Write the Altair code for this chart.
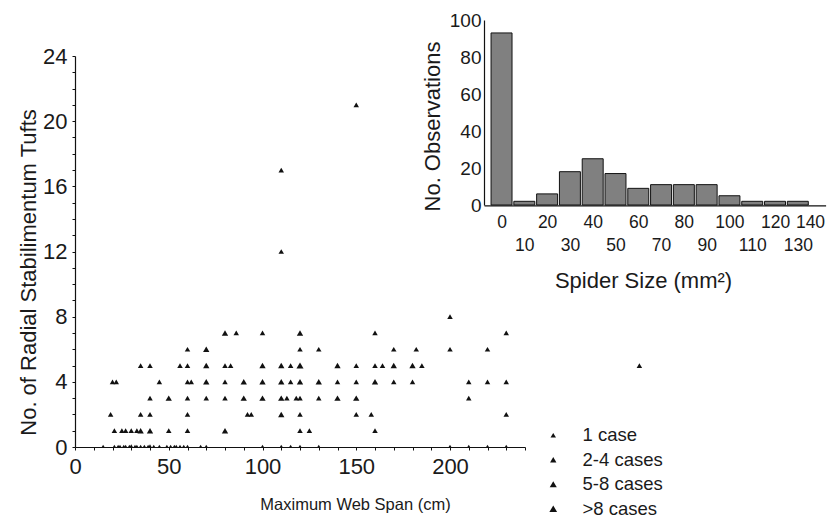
import altair as alt
import pandas as pd

FONT = "Liberation Sans"
INK = "#1a1a1a"

CASE_LABELS = ["1 case", "2-4 cases", "5-8 cases", ">8 cases"]

# Main scatter: maximum web span (cm), number of radial stabilimentum tufts, case class index
span = [150, 110, 110, 200,
        80, 86, 100, 120, 160, 230,
        60, 70, 120, 130, 170, 182, 200, 220,
        35, 40, 56, 60, 70, 80, 83, 100, 110, 115, 120, 140, 150, 160, 164, 170, 180, 185,
        20, 22, 45, 60, 62, 70, 80, 90, 100, 110, 115, 120, 130, 140, 150, 160, 170, 180, 210, 220, 230,
        40, 50, 60, 70, 80, 90, 100, 110, 113, 118, 120, 130, 140, 150, 210,
        19, 35, 40, 60, 92, 94, 110, 120, 150, 158, 230,
        21, 25, 27, 30, 33, 35, 40, 50, 60, 80, 120, 125, 160,
        15, 21, 23, 24, 26, 27, 29, 30, 32, 33, 35, 37, 39, 40, 42, 45, 49, 51, 53, 54, 56, 58, 60,
        67, 70, 100, 110, 115, 120, 130, 200, 210, 220, 230,
        301]
tufts = [21, 17, 12, 8,
         7, 7, 7, 7, 7, 7,
         6, 6, 6, 6, 6, 6, 6, 6,
         5, 5, 5, 5, 5, 5, 5, 5, 5, 5, 5, 5, 5, 5, 5, 5, 5, 5,
         4, 4, 4, 4, 4, 4, 4, 4, 4, 4, 4, 4, 4, 4, 4, 4, 4, 4, 4, 4, 4,
         3, 3, 3, 3, 3, 3, 3, 3, 3, 3, 3, 3, 3, 3, 3,
         2, 2, 2, 2, 2, 2, 2, 2, 2, 2, 2,
         1, 1, 1, 1, 1, 1, 1, 1, 1, 1, 1, 1, 1,
         0, 0, 0, 0, 0, 0, 0, 0, 0, 0, 0, 0, 0, 0, 0, 0, 0, 0, 0, 0, 0, 0, 0,
         0, 0, 0, 0, 0, 0, 0, 0, 0, 0, 0,
         5]
case_idx = [0, 0, 0, 0,
            1, 0, 0, 1, 0, 0,
            0, 1, 0, 0, 0, 0, 0, 0,
            0, 0, 0, 0, 1, 0, 0, 1, 1, 0, 2, 1, 0, 0, 0, 1, 1, 0,
            0, 0, 0, 0, 0, 1, 0, 1, 1, 1, 0, 1, 1, 0, 0, 1, 0, 0, 0, 0, 0,
            0, 1, 0, 0, 0, 1, 1, 1, 0, 0, 0, 0, 1, 1, 0,
            0, 0, 0, 0, 0, 0, 1, 0, 0, 0, 0,
            0, 0, 0, 0, 0, 1, 1, 0, 0, 1, 0, 0, 0,
            0, 0, 0, 0, 0, 0, 0, 1, 0, 0, 0, 0, 0, 1, 0, 0, 0, 0, 0, 0, 0, 0, 0,
            0, 0, 0, 0, 0, 0, 0, 0, 0, 0, 0,
            0]

# Inset histogram: spider size class (mm^2) and number of observations
size_class = [0, 10, 20, 30, 40, 50, 60, 70, 80, 90, 100, 110, 120, 130]
observations = [93, 2, 6, 18, 25, 17, 9, 11, 11, 11, 5, 2, 2, 2]

pts = pd.DataFrame({"span": span, "tufts": tufts,
                    "cases": [CASE_LABELS[i] for i in case_idx]})
hist = pd.DataFrame({"size": size_class, "obs": observations})

W, H = 450, 391

size_enc = alt.Size("cases:O", sort=CASE_LABELS,
                    scale=alt.Scale(domain=CASE_LABELS, range=[30, 60, 95, 130]),
                    legend=alt.Legend(orient="none", legendX=469, legendY=370, title=None,
                                      symbolType="triangle-up", symbolFillColor="#111",
                                      symbolStrokeWidth=0, labelFontSize=18.5, labelFont=FONT,
                                      labelColor=INK, labelOffset=20, rowPadding=5.5, padding=0))

x_main = alt.X("span:Q", scale=alt.Scale(domain=[0, 240], nice=False, zero=False),
               axis=alt.Axis(values=list(range(0, 241, 10)),
                             labelExpr="datum.value % 50 == 0 ? datum.label : ''",
                             labelOverlap=False, labelBound=False, labelFlush=False,
                             tickSize=3, labelPadding=6,
                             labelFontSize=22, title="Maximum Web Span (cm)",
                             titleFontSize=16.5, titleFontWeight="normal",
                             titleX=280, titleY=57, titleBaseline="middle", grid=False,
                             orient="bottom"))
y_main = alt.Y("tufts:Q", scale=alt.Scale(domain=[0, 24], nice=False),
               axis=alt.Axis(values=list(range(0, 25)),
                             labelExpr="datum.value % 4 == 0 ? datum.label : ''",
                             labelOverlap=False, tickSize=3, labelPadding=5,
                             labelFontSize=22, title="No. of Radial Stabilimentum Tufts",
                             titleFontSize=22, titleFontWeight="normal",
                             titleX=-47, titleY=216, titleBaseline="middle", grid=False,
                             orient="left"))

inside = alt.Chart(pts).transform_filter("datum.span <= 240").mark_point(
    shape="triangle-up", filled=True, color="#111", opacity=1, clip=True
).encode(x=x_main, y=y_main, size=size_enc)

outside = alt.Chart(pts).transform_filter("datum.span > 240").mark_point(
    shape="triangle-up", filled=True, color="#111", opacity=1
).encode(x=x_main, y=y_main, size=size_enc)

main = alt.layer(inside, outside)

inset = alt.Chart(hist).transform_calculate(
    x0="datum.size - 4.6", x1="datum.size + 4.6"
).mark_bar(fill="#808080", stroke="#111", strokeWidth=1, orient="vertical").encode(
    x=alt.X("x0:Q", scale=alt.Scale(domain=[-5.5, 140], range=[409, 750.6], nice=False, zero=False),
            axis=alt.Axis(orient="bottom", offset=-241.7, values=list(range(0, 141, 10)),
                          labelExpr="datum.value % 20 == 0 ? datum.label : ['', datum.label]",
                          labelAlign={"condition": {"test": "datum.value == 140", "value": "right"},
                                      "value": "center"},
                          labelOffset={"condition": {"test": "datum.value == 140", "value": 4},
                                       "value": 0},
                          labelLineHeight=23, labelOverlap=False, labelBound=False,
                          labelFlush=False, ticks=False, labelPadding=8,
                          labelFontSize=17.5, title="Spider Size (mm²)", titleFontSize=22,
                          titleFontWeight="normal", titleX=568, titleY=75,
                          titleBaseline="middle", grid=False)),
    x2="x1:Q",
    y=alt.Y("obs:Q", scale=alt.Scale(domain=[0, 100], range=[149, -36], nice=False, zero=True),
            axis=alt.Axis(orient="left", offset=-409, values=[0, 20, 40, 60, 80, 100],
                          ticks=False, labelPadding=3, labelFontSize=19,
                          title="No. Observations", titleFontSize=22, titleFontWeight="normal",
                          titleX=-52, titleY=70, titleBaseline="middle", grid=False)),
    y2=alt.datum(0),
)

chart = alt.layer(main, inset).resolve_scale(
    x="independent", y="independent"
).resolve_axis(x="independent", y="independent").properties(
    width=W, height=H, autosize="none",
    padding={"left": 67, "top": 48, "right": 305, "bottom": 72},
    background="white",
).configure_view(stroke=None).configure_axis(
    domainColor="#111", tickColor="#111", labelColor=INK, titleColor=INK,
    labelFont=FONT, titleFont=FONT, domainWidth=1.2
).configure_legend(labelFont=FONT)

chart.save("out.html", embed_options={"renderer": "svg", "actions": False})
